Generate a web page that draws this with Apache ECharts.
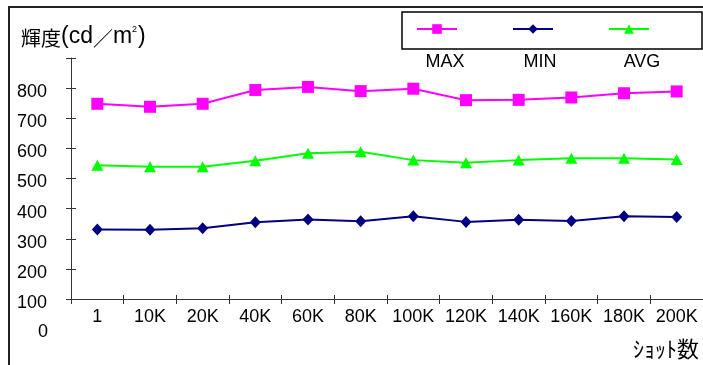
<!DOCTYPE html>
<html>
<head>
<meta charset="utf-8">
<script src="https://cdn.jsdelivr.net/npm/echarts@6/dist/echarts.min.js"></script>
<style>html,body{margin:0;padding:0;background:#fff;}#c{width:703px;height:365px;}</style>
</head>
<body>
<div id="c"></div>
<script>
var categories = ['1','10K','20K','40K','60K','80K','100K','120K','140K','160K','180K','200K'];
var maxValues = [748, 738, 748, 794, 804, 790, 798, 760, 761, 769, 783, 789];
var minValues = [331, 330, 335, 355, 364, 358, 375, 356, 363, 359, 375, 372];
var avgValues = [544, 539, 539, 559, 584, 589, 561, 552, 561, 567, 567, 563];
var seriesNames = ['MAX', 'MIN', 'AVG'];
var yTicks = [100, 900, 100];

var chart = echarts.init(document.getElementById('c'));
var FONT = 'Liberation Sans, Arial, sans-serif';
var axisCol = '#333';
chart.setOption({
  animation: false,
  backgroundColor: '#fff',
  grid: {left: 71, right: 0, top: 58, bottom: 66, containLabel: false},
  legend: {
    data: seriesNames, left: 416, top: 23, padding: 0, itemWidth: 40, itemHeight: 12, itemGap: 54,
    formatter: function () { return ''; }, selectedMode: false
  },
  xAxis: [{
    type: 'category', data: categories, boundaryGap: true,
    axisLine: {onZero: false, lineStyle: {color: axisCol, width: 1}},
    axisTick: {show: true, length: 5, lineStyle: {color: axisCol}},
    axisLabel: {margin: 9, interval: 0, fontFamily: FONT, fontSize: 18, color: '#000'},
    splitLine: {show: false}
  }, {
    type: 'category', data: categories, boundaryGap: true, position: 'bottom',
    axisLine: {show: false, onZero: false},
    axisTick: {show: true, inside: true, length: 4, lineStyle: {color: axisCol}},
    axisLabel: {show: false}, splitLine: {show: false}
  }],
  yAxis: [{
    type: 'value', min: yTicks[0], max: yTicks[1], interval: yTicks[2],
    axisLine: {show: true, lineStyle: {color: axisCol, width: 1}},
    axisTick: {show: true, length: 5, lineStyle: {color: axisCol}},
    axisLabel: {
      margin: 24, color: '#000',
      formatter: function (v) { return v >= 900 ? '' : '{a|' + v + '}'; },
      rich: {a: {fontFamily: FONT, fontSize: 18, color: '#000', padding: [8, 0, 0, 0]}}
    },
    splitLine: {show: false}
  }, {
    type: 'value', min: yTicks[0], max: yTicks[1], interval: yTicks[2], position: 'left',
    axisLine: {show: false}, axisTick: {show: true, inside: true, length: 5, lineStyle: {color: axisCol}},
    axisLabel: {show: false}, splitLine: {show: false}
  }],
  series: [
    {name: seriesNames[0], type: 'line', data: maxValues, symbol: 'rect', symbolSize: 12,
     itemStyle: {color: '#FF00FF'}, lineStyle: {color: '#FF00FF', width: 2}},
    {name: seriesNames[1], type: 'line', data: minValues, symbol: 'diamond', symbolSize: [11, 12],
     itemStyle: {color: '#000080'}, lineStyle: {color: '#000080', width: 2}},
    {name: seriesNames[2], type: 'line', data: avgValues, symbol: 'triangle', symbolSize: [12, 11],
     itemStyle: {color: '#00FF00'}, lineStyle: {color: '#00FF00', width: 2}}
  ],
  graphic: [
    {type: 'rect', shape: {x: 9, y: 7, width: 720, height: 380}, style: {fill: 'none', stroke: '#222', lineWidth: 2}, silent: true},
    {type: 'rect', shape: {x: 402, y: 12, width: 300, height: 37}, style: {fill: 'none', stroke: '#000', lineWidth: 1.5}, silent: true},
    {type: 'text', left: 21, top: 25, silent: true, style: {
      text: '{a|輝度}{b|(cd}{c|／}{b|m}{s|2}{b|)}',
      rich: {
        a: {font: '20px "Noto Sans CJK JP"', fill: '#000', verticalAlign: 'bottom'},
        b: {font: '23px "Liberation Sans"', fill: '#000', verticalAlign: 'bottom'},
        c: {font: '20px "Noto Sans CJK JP"', fill: '#000', verticalAlign: 'bottom'},
        s: {font: '9px "Liberation Sans"', fill: '#000', verticalAlign: 'top', padding: [0, 1, 0, 0]}
      }
    }},
    {type: 'text', x: 445, y: 62, style: {text: seriesNames[0], font: '18px "Liberation Sans"', fill: '#000', align: 'center', verticalAlign: 'middle'}},
    {type: 'text', x: 540, y: 62, style: {text: seriesNames[1], font: '18px "Liberation Sans"', fill: '#000', align: 'center', verticalAlign: 'middle'}},
    {type: 'text', x: 642, y: 62, style: {text: seriesNames[2], font: '18px "Liberation Sans"', fill: '#000', align: 'center', verticalAlign: 'middle'}},
    {type: 'text', x: 48, y: 332, style: {text: '0', font: '18px "Liberation Sans"', fill: '#000', align: 'right', verticalAlign: 'middle'}},
    {type: 'text', x: 699, y: 349, style: {text: 'ｼｮｯﾄ数', font: '22px "Noto Sans CJK JP"', fill: '#000', align: 'right', verticalAlign: 'middle'}}
  ]
});
</script>
</body>
</html>
